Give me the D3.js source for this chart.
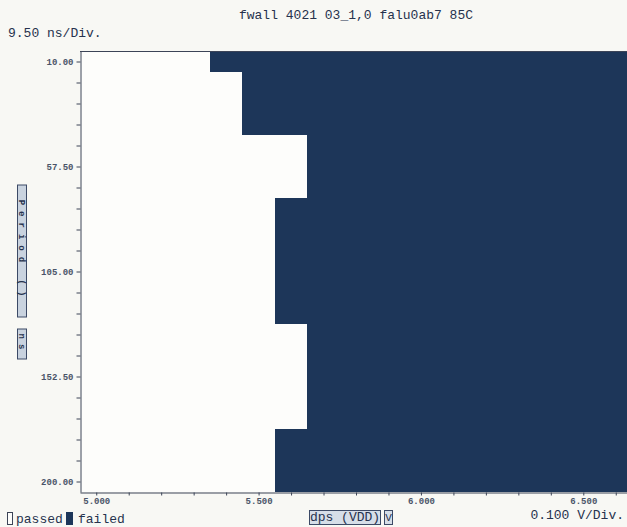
<!DOCTYPE html>
<html>
<head>
<meta charset="utf-8">
<script src="https://cdn.jsdelivr.net/npm/d3@7"></script>
<style>
  body { margin: 0; background: #f8f8f4; }
  svg { display: block; }
  text { font-family: "Liberation Mono", "DejaVu Sans Mono", monospace; fill: #26324d; }
  .axis text { font-size: 9px; font-weight: bold; fill: #4a5468; }
  .axis path, .axis line { stroke: #3c4457; stroke-width: 1; }
</style>
</head>
<body>
<svg width="627" height="527"></svg>
<script>
// shmoo plot: period (ns) vs dps (VDD) in V
const periods = [10.0, 19.5, 29.0, 38.5, 48.0, 57.5, 67.0, 76.5, 86.0, 95.5, 105.0,
                 114.5, 124.0, 133.5, 143.0, 152.5, 162.0, 171.5, 181.0, 190.5, 200.0];
const vdd = [5.0, 5.1, 5.2, 5.3, 5.4, 5.5, 5.6, 5.7, 5.8, 5.9, 6.0,
             6.1, 6.2, 6.3, 6.4, 6.5, 6.6];
// highest VDD that still passes, per period row
const maxPassVdd = [5.3, 5.4, 5.4, 5.4, 5.6, 5.6, 5.6, 5.5, 5.5, 5.5, 5.5,
                    5.5, 5.5, 5.6, 5.6, 5.6, 5.6, 5.6, 5.5, 5.5, 5.5];
const yTickLabels = [10.0, 57.5, 105.0, 152.5, 200.0];
const xTickLabels = [5.0, 5.5, 6.0, 6.5];

const svg = d3.select('svg');

const vStep = 0.1, pStep = 9.5;
const x = d3.scaleLinear()
    .domain([vdd[0] - vStep / 2, vdd[vdd.length - 1] + vStep / 2])
    .range([80, 632]);
const y = d3.scaleLinear()
    .domain([periods[0] - pStep / 2, periods[periods.length - 1] + pStep / 2])
    .range([51, 492]);

// plot background (passed area)
svg.append('rect')
    .attr('x', x.range()[0]).attr('y', y.range()[0])
    .attr('width', x.range()[1] - x.range()[0])
    .attr('height', y.range()[1] - y.range()[0])
    .attr('fill', '#fdfdfb');

// failed cells of each row, merged into one run (all cells right of the pass limit)
const rows = periods.map((p, i) => {
    const failed = vdd.filter(v => v > maxPassVdd[i] + 1e-9);
    return {p: p, from: failed[0], to: failed[failed.length - 1]};
});

svg.append('g').selectAll('rect')
    .data(rows)
    .enter().append('rect')
    .attr('x', d => Math.round(x(d.from - vStep / 2)))
    .attr('y', d => Math.round(y(d.p - pStep / 2)))
    .attr('width', d => Math.round(x(d.to + vStep / 2)) - Math.round(x(d.from - vStep / 2)))
    .attr('height', d => Math.round(y(d.p + pStep / 2)) - Math.round(y(d.p - pStep / 2)))
    .attr('fill', '#1d3659')
    .attr('shape-rendering', 'crispEdges');

// top border
svg.append('line')
    .attr('x1', x.range()[0]).attr('x2', x.range()[1])
    .attr('y1', y.range()[0] + 0.5).attr('y2', y.range()[0] + 0.5)
    .attr('stroke', '#3c4457');

const yAxis = d3.axisLeft(y)
    .tickValues(periods)
    .tickSize(4)
    .tickSizeOuter(0)
    .tickPadding(3)
    .tickFormat(d => yTickLabels.includes(d) ? d3.format('.2f')(d) : '');
svg.append('g')
    .attr('class', 'axis')
    .attr('transform', 'translate(80.5,0)')
    .call(yAxis);

const xAxis = d3.axisBottom(x)
    .tickValues(vdd)
    .tickSize(3)
    .tickSizeOuter(0)
    .tickPadding(2)
    .tickFormat(d => xTickLabels.some(t => Math.abs(t - d) < 1e-9) ? d3.format('.3f')(d) : '');
svg.append('g')
    .attr('class', 'axis')
    .attr('transform', 'translate(0,492.5)')
    .call(xAxis);

// titles
svg.append('text')
    .attr('x', 356).attr('y', 19)
    .attr('text-anchor', 'middle')
    .style('font-size', '13px')
    .text('fwall 4021 03_1,0 falu0ab7 85C');

svg.append('text')
    .attr('x', 8).attr('y', 37)
    .style('font-size', '13px')
    .text('9.50 ns/Div.');

svg.append('text')
    .attr('x', 624).attr('y', 519)
    .attr('text-anchor', 'end')
    .style('font-size', '13px')
    .text('0.100 V/Div.');

// y axis label, rotated boxes
const yLab = svg.append('g').attr('transform', 'translate(22,251) rotate(90)');
yLab.append('rect')
    .attr('x', -66).attr('y', -4.5).attr('width', 132).attr('height', 9)
    .attr('fill', '#c9d3df').attr('stroke', '#3c4a66');
yLab.append('text')
    .attr('x', 0).attr('y', 3)
    .attr('text-anchor', 'middle')
    .style('font-size', '9px').style('font-weight', 'bold')
    .style('letter-spacing', '6px')
    .text('Period ()');
const yUnit = svg.append('g').attr('transform', 'translate(22,344) rotate(90)');
yUnit.append('rect')
    .attr('x', -15).attr('y', -4.5).attr('width', 30).attr('height', 9)
    .attr('fill', '#c9d3df').attr('stroke', '#3c4a66');
yUnit.append('text')
    .attr('x', 0).attr('y', 3)
    .attr('text-anchor', 'middle')
    .style('font-size', '9px').style('font-weight', 'bold')
    .style('letter-spacing', '5px')
    .text('ns');

// x axis label
svg.append('rect')
    .attr('x', 309.5).attr('y', 510.5).attr('width', 71).attr('height', 14)
    .attr('fill', '#d6dee8').attr('stroke', '#3c4a66');
svg.append('text')
    .attr('x', 345).attr('y', 521)
    .attr('text-anchor', 'middle')
    .style('font-size', '13px')
    .text('dps (VDD)');
svg.append('rect')
    .attr('x', 384.5).attr('y', 510.5).attr('width', 8).attr('height', 14)
    .attr('fill', '#d6dee8').attr('stroke', '#3c4a66');
svg.append('text')
    .attr('x', 388.5).attr('y', 521)
    .attr('text-anchor', 'middle')
    .style('font-size', '11px')
    .text('V');

// legend
svg.append('rect')
    .attr('x', 7.5).attr('y', 512.5).attr('width', 5).attr('height', 12)
    .attr('fill', '#fdfdfb').attr('stroke', '#3c4457');
svg.append('text')
    .attr('x', 16).attr('y', 523)
    .style('font-size', '13px')
    .text('passed');
svg.append('rect')
    .attr('x', 66).attr('y', 512).attr('width', 7).attr('height', 13)
    .attr('fill', '#1d3659');
svg.append('text')
    .attr('x', 78).attr('y', 523)
    .style('font-size', '13px')
    .text('failed');
</script>
</body>
</html>
